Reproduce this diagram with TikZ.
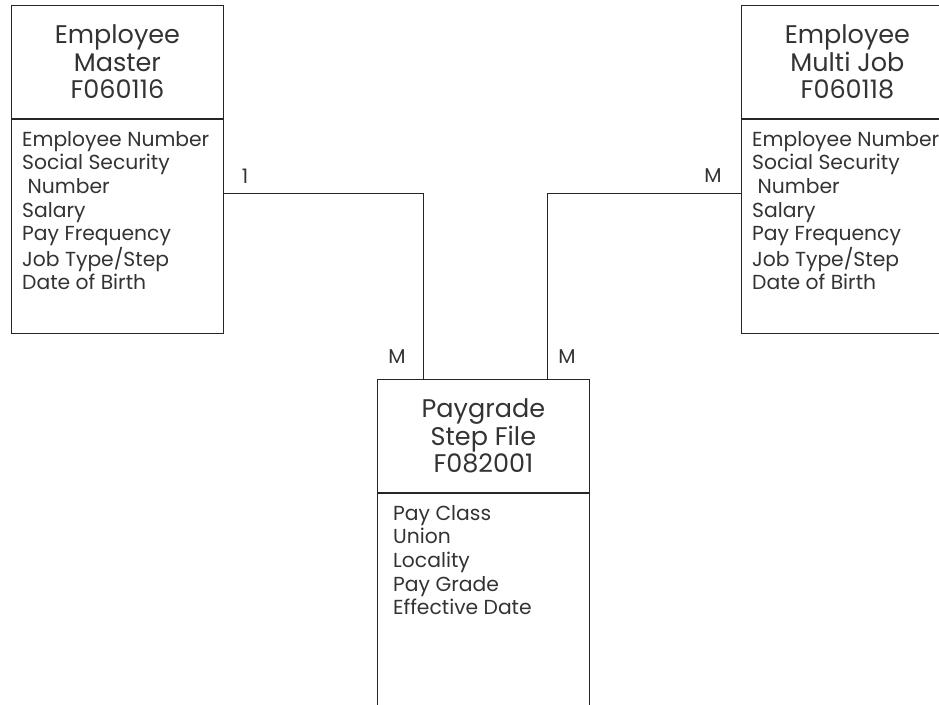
\documentclass[tikz,border=0pt]{standalone}
\usepackage{fontspec}
\setmainfont{Poppins}
\usetikzlibrary{positioning}
\definecolor{Ink}{HTML}{333333}
\tikzset{
  tabhead/.style={draw=black!85, line width=0.8pt, minimum width=212pt, minimum height=113pt, anchor=north west, inner sep=0pt, align=center, text=Ink, font=\fontsize{25.5}{27.5}\selectfont},
  tabbody/.style={draw=black!85, line width=0.8pt, minimum width=212pt, anchor=north west, inner sep=0pt},
  fieldlist/.style={anchor=north west, align=left, inner sep=0pt, text=Ink, font=\fontsize{20.3}{23.7}\selectfont},
  card/.style={inner sep=0pt, text=Ink, font=\fontsize{20}{22}\selectfont},
  link/.style={draw=black!85, line width=0.8pt},
}

\begin{document}
\begin{tikzpicture}[x=1pt, y=-1pt]
\useasboundingbox (0,0) rectangle (939,704);
\clip (0,0) rectangle (939,704);
% employee master
\node[tabhead] (mtitle) at (11,5) {Employee\\Master\\F060116};
\node[tabbody, minimum height=214pt] (mbody) at (mtitle.south west) {};
\node[fieldlist] (mlist) at ([shift={(11,12)}]mbody.north west) {Employee Number\\Social Security\\\ Number\\Salary\\Pay Frequency\\Job Type/Step\\Date of Birth};
% employee multi job
\node[tabhead] (jtitle) at (741,5) {Employee\\Multi Job\\F060118};
\node[tabbody, minimum height=214pt] (jbody) at (jtitle.south west) {};
\node[fieldlist] (jlist) at ([shift={(11,12)}]jbody.north west) {Employee Number\\Social Security\\\ Number\\Salary\\Pay Frequency\\Job Type/Step\\Date of Birth};
% paygrade step file
\node[tabhead] (ptitle) at (377,379) {Paygrade\\Step File\\F082001};
\node[tabbody, minimum height=240pt] (pbody) at (ptitle.south west) {};
\node[fieldlist] (plist) at ([shift={(16,12)}]pbody.north west) {Pay Class\\Union\\Locality\\Pay Grade\\Effective Date};
% relationships
\draw[link] ([yshift=33pt]mbody.east) -| ([xshift=46pt]ptitle.north west);
\draw[link] ([xshift=-42pt]ptitle.north east) |- ([yshift=33pt]jbody.west);
\node[card] (one) at (245,176) {1};
\node[card] (many1) at (397,357) {M};
\node[card] (many2) at (567,357) {M};
\node[card] (many3) at (713,176) {M};
\end{tikzpicture}
\end{document}
